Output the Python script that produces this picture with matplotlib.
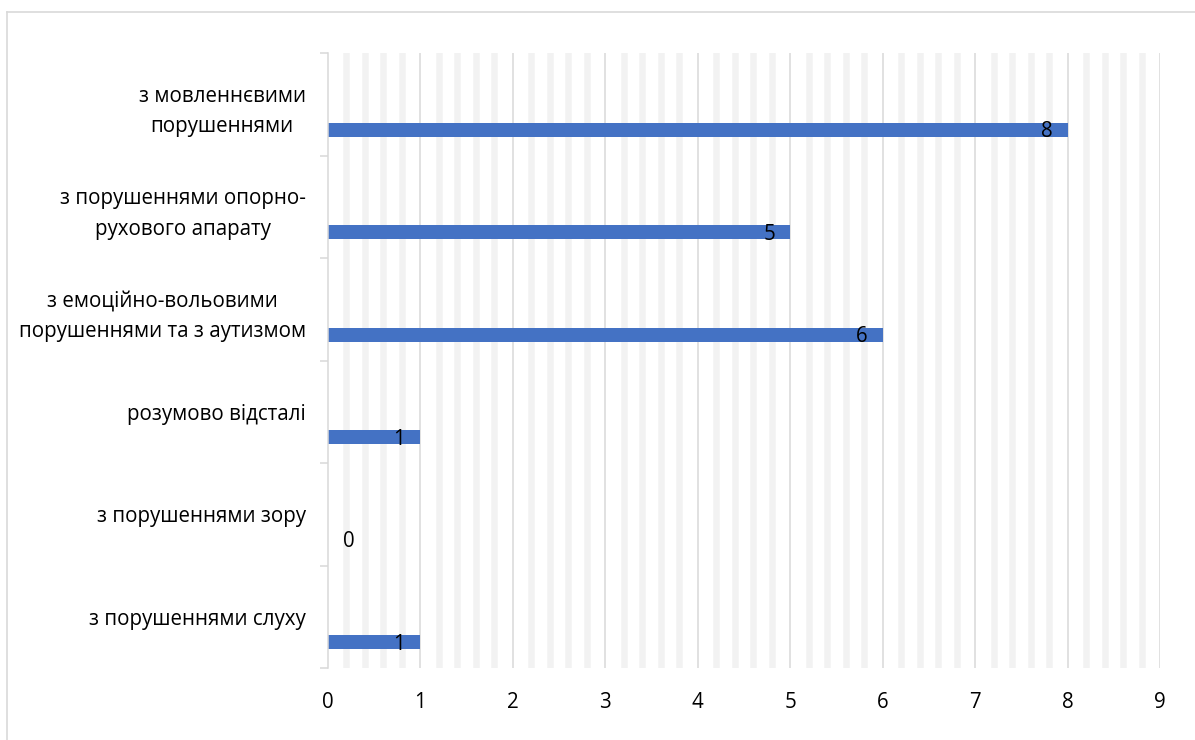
import matplotlib
matplotlib.use("Agg")
import matplotlib.pyplot as plt
from matplotlib.lines import Line2D
import numpy as np

plt.rcParams['font.family'] = ['Open Sans', 'DejaVu Sans']

categories = [
    "з порушеннями слуху",
    "з порушеннями зору",
    "розумово відсталі",
    "з емоційно-вольовими\nпорушеннями та з аутизмом",
    "з порушеннями опорно-\nрухового апарату",
    "з мовленнєвими\nпорушеннями",
]
values = [1, 0, 1, 6, 5, 8]
x_ticks = list(range(0, 10))

fig = plt.figure(figsize=(11.95, 7.40), dpi=100)
ax = fig.add_axes([328/1195, 1-668/740, (1160-328)/1195, (668-53)/740])

FS = 14.8
bar_color = "#4472C4"

# minor gridlines (wide light stripes)
for v in np.arange(0, 9.0001, 0.2):
    if abs(v - round(v)) < 1e-6:
        continue
    ax.axvline(v, color="#f2f2f2", lw=4.7, zorder=0)
for v in range(1, 10):
    ax.axvline(v, color="#d9d9d9", lw=1.1, zorder=0.5)

y = np.arange(len(categories))
ax.barh(y - 0.25, values, height=0.135, color=bar_color, zorder=2)

for yi, v in zip(y, values):
    if v > 0:
        ax.annotate(str(v), xy=(v, yi - 0.25), xytext=(-11.0, -1.5),
                    textcoords="offset points", ha="right", va="center",
                    fontsize=FS, color="black", zorder=3)
    else:
        ax.annotate(str(v), xy=(v, yi - 0.25), xytext=(11.0, -1.5),
                    textcoords="offset points", ha="left", va="center",
                    fontsize=FS, color="black", zorder=3)

ax.set_xlim(0, 9)
ax.set_ylim(-0.5, len(categories) - 0.5)
ax.set_xticks(x_ticks)
ax.set_xticklabels([str(t) for t in x_ticks], fontsize=FS)
ax.tick_params(axis="x", length=0, pad=17)

ax.set_yticks(y)
ax.set_yticklabels(categories, fontsize=FS, multialignment="center", linespacing=1.6)
ax.tick_params(axis="y", length=0, pad=16)
ax.set_yticks(np.arange(-0.5, len(categories), 1.0), minor=True)
ax.tick_params(axis="y", which="minor", length=6, color="#d9d9d9", width=1.1)

for s in ["top", "right", "bottom"]:
    ax.spines[s].set_visible(False)
ax.spines["left"].set_color("#d9d9d9")
ax.spines["left"].set_linewidth(1.1)

# outer chart border (top and left visible)
fig.add_artist(Line2D([7/1195, 7/1195], [0, 1-12/740], transform=fig.transFigure,
                      color="#d9d9d9", lw=1.2))
fig.add_artist(Line2D([7/1195, 1], [1-12/740, 1-12/740], transform=fig.transFigure,
                      color="#d9d9d9", lw=1.2))

fig.savefig("out.png", dpi=100)
